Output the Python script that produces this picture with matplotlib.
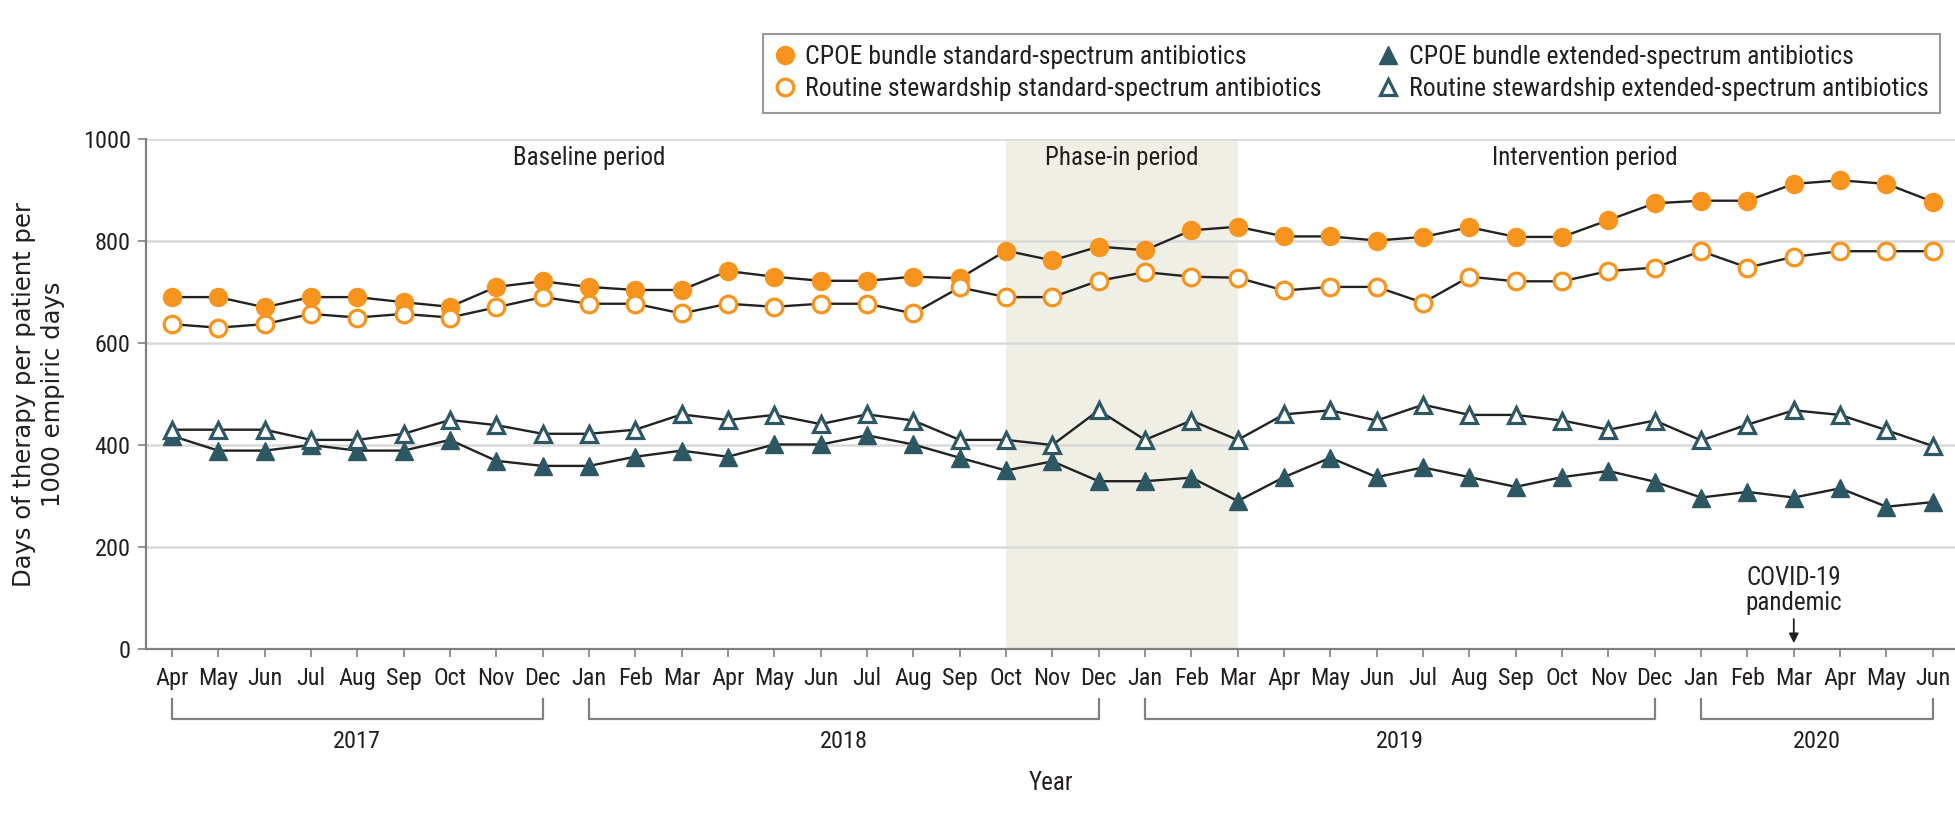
import matplotlib
matplotlib.use("Agg")
import matplotlib.pyplot as plt
import matplotlib.transforms as mtransforms
from matplotlib import font_manager
from matplotlib.lines import Line2D

# months Apr 2017 .. Jun 2020
months = ["Apr", "May", "Jun", "Jul", "Aug", "Sep", "Oct", "Nov", "Dec",
          "Jan", "Feb", "Mar", "Apr", "May", "Jun", "Jul", "Aug", "Sep", "Oct", "Nov", "Dec",
          "Jan", "Feb", "Mar", "Apr", "May", "Jun", "Jul", "Aug", "Sep", "Oct", "Nov", "Dec",
          "Jan", "Feb", "Mar", "Apr", "May", "Jun"]

cpoe_std = [690, 690, 670, 690, 690, 680, 671, 710, 721, 710, 704, 704, 741,
            730, 722, 722, 730, 727, 781, 762, 789, 782, 821, 828, 809, 809,
            801, 808, 827, 808, 808, 841, 874, 879, 879, 912, 919, 912, 877]
routine_std = [637, 630, 637, 657, 650, 657, 650, 670, 690, 677, 677, 658, 677,
               671, 677, 677, 658, 709, 690, 690, 722, 739, 730, 728, 703, 710,
               710, 679, 730, 721, 721, 741, 748, 780, 748, 769, 780, 780, 780]
cpoe_ext = [418, 389, 389, 400, 389, 389, 410, 369, 359, 359, 377, 389, 377,
            401, 401, 419, 401, 375, 350, 368, 329, 329, 336, 290, 337, 375,
            337, 356, 337, 318, 337, 349, 328, 297, 308, 297, 315, 279, 288]
routine_ext = [430, 430, 430, 410, 410, 422, 449, 439, 422, 422, 430, 460, 449,
               459, 441, 460, 448, 410, 410, 400, 468, 410, 448, 410, 460, 468,
               448, 479, 459, 459, 448, 430, 448, 409, 440, 468, 459, 429, 398]

years = ["2017", "2018", "2019", "2020"]
year_spans = [(0, 8), (9, 20), (21, 32), (33, 38)]
periods = ["Baseline period", "Phase-in period", "Intervention period"]
period_pos = [9, 20.5, 30.5]
phase_in = (18, 23)
covid_idx = 35

ORANGE = "#f7941d"
TEAL = "#2d5763"
TXT = "#231f20"
GRAY = "#808080"

names = {f.name for f in font_manager.fontManager.ttflist}
narrow = "DejaVu Sans"
for cand in ["Liberation Sans Narrow", "Roboto Condensed", "Open Sans Condensed", "Liberation Sans"]:
    if cand in names:
        narrow = cand
        break
plt.rcParams["font.family"] = [narrow, "DejaVu Sans"]

FS = 18

fig = plt.figure(figsize=(19.56, 8.26), dpi=100)
ax = fig.add_axes([0.0746, 0.2143, 0.9254, 0.6174])

x = list(range(len(months)))

ax.axvspan(phase_in[0], phase_in[1], color="#efefe6", zorder=0, lw=0)

for ys in [cpoe_std, routine_std, cpoe_ext, routine_ext]:
    ax.plot(x, ys, color="#222222", lw=1.7, zorder=2)

ms = 13
ax.plot(x, cpoe_std, ls="none", marker="o", ms=ms, mfc=ORANGE, mec=ORANGE, zorder=3)
ax.plot(x, routine_std, ls="none", marker="o", ms=ms - 1, mfc="white", mec=ORANGE, mew=2.3, zorder=3)
ax.plot(x, cpoe_ext, ls="none", marker="^", ms=ms, mfc=TEAL, mec=TEAL, zorder=3)
ax.plot(x, routine_ext, ls="none", marker="^", ms=ms - 1, mfc="white", mec=TEAL, mew=2.3, zorder=3)

ax.set_xlim(-0.56, 38.5)
ax.set_ylim(0, 1000)
ax.set_yticks([0, 200, 400, 600, 800, 1000])
ax.yaxis.grid(True, color="#d9d9d9", lw=1.8, zorder=0)
ax.set_axisbelow(True)
for s in ["top", "right"]:
    ax.spines[s].set_visible(False)
for s in ["left", "bottom"]:
    ax.spines[s].set_color(GRAY)
    ax.spines[s].set_linewidth(1.6)

ax.set_xticks(x)
ax.set_xticklabels(months)
ax.tick_params(axis="both", colors=GRAY, labelcolor=TXT, labelsize=17.5, length=6, width=1.2)
ax.tick_params(axis="x", pad=7)
ax.tick_params(axis="y", pad=5)

# period labels
for lab, px in zip(periods, period_pos):
    ax.text(px, 962, lab, ha="center", va="center", fontsize=FS, color=TXT)

# covid annotation
ax.text(covid_idx, 114, "COVID-19\npandemic", ha="center", va="center", fontsize=FS,
        color=TXT, linespacing=1.05)
ax.annotate("", xy=(covid_idx, 6), xytext=(covid_idx, 64),
            arrowprops=dict(arrowstyle="-|>", color=TXT, lw=1.3, mutation_scale=14))

# year brackets
trans = mtransforms.blended_transform_factory(ax.transData, ax.transAxes)
for yr, (a, b) in zip(years, year_spans):
    ax.plot([a, a, b, b], [-0.098, -0.138, -0.138, -0.098], color=GRAY, lw=1.6,
            transform=trans, clip_on=False)
    ax.text((a + b) / 2, -0.181, yr, ha="center", va="center", fontsize=17.5,
            color=TXT, transform=trans)

ax.text(0.5, -0.262, "Year", ha="center", va="center", fontsize=FS, color=TXT,
        transform=ax.transAxes)
fig.text(0.0195, 0.523, "Days of therapy per patient per\n1000 empiric days", rotation=90,
         ha="center", va="center", fontsize=17.5, color=TXT, family="DejaVu Sans",
         multialignment="center", linespacing=1.25)

handles = [
    Line2D([], [], ls="none", marker="o", ms=ms, mfc=ORANGE, mec=ORANGE,
           label="CPOE bundle standard-spectrum antibiotics"),
    Line2D([], [], ls="none", marker="o", ms=ms - 1, mfc="white", mec=ORANGE, mew=2.3,
           label="Routine stewardship standard-spectrum antibiotics"),
    Line2D([], [], ls="none", marker="^", ms=ms, mfc=TEAL, mec=TEAL,
           label="CPOE bundle extended-spectrum antibiotics"),
    Line2D([], [], ls="none", marker="^", ms=ms - 1, mfc="white", mec=TEAL, mew=2.3,
           label="Routine stewardship extended-spectrum antibiotics"),
]
leg = fig.legend(handles=handles, loc="upper right", bbox_to_anchor=(0.992, 0.959), ncol=2,
                 fontsize=18.5, frameon=True, fancybox=False, handlelength=0.8,
                 handletextpad=0.4, columnspacing=2.2, borderpad=0.45, labelspacing=0.3,
                 borderaxespad=0)
leg.get_frame().set_edgecolor(GRAY)
leg.get_frame().set_linewidth(1.5)
for t in leg.get_texts():
    t.set_color(TXT)

fig.savefig("out.png", dpi=100)
